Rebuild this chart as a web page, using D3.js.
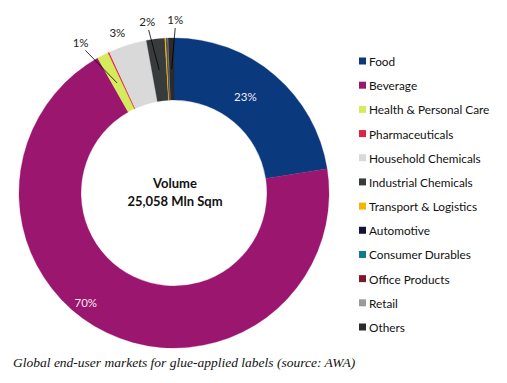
<!DOCTYPE html>
<html>
<head>
<meta charset="utf-8">
<script src="https://cdn.jsdelivr.net/npm/d3@7/dist/d3.min.js"></script>
<style>
  html, body { margin: 0; padding: 0; background: #fff; }
  svg { display: block; }
</style>
</head>
<body>
<svg id="chart" width="507" height="383"></svg>
<script>
// ---- data ----
const categories = ["Food", "Beverage", "Health & Personal Care", "Pharmaceuticals",
  "Household Chemicals", "Industrial Chemicals", "Transport & Logistics", "Automotive",
  "Consumer Durables", "Office Products", "Retail", "Others"];
const shares = [22.5, 69.3, 1.2, 0.15, 4.0, 1.9, 0.15, 0.05, 0.05, 0.05, 0.05, 0.6];
const labels = ["23%", "70%", "1%", "", "3%", "2%", "", "", "", "", "", "1%"];
const colors = ["#0a3a7d", "#9b166f", "#d6eb5c", "#e0243f", "#d9d9d9", "#383b3b",
  "#f2b705", "#14123c", "#0f7a8a", "#7c1a2b", "#9a9a9a", "#2b2b2b"];
const centerLines = ["Volume", "25,058 Mln Sqm"];
const caption = "Global end-user markets for glue-applied labels (source: AWA)";

// ---- layout ----
const svg = d3.select("#chart");
const cx = 174, cy = 193, rOuter = 155, rInner = 93;
const data = categories.map((c, i) => ({ name: c, value: shares[i], color: colors[i], label: labels[i] }));

const pie = d3.pie().value(d => d.value).sort(null);
const arcs = pie(data);
const arc = d3.arc().innerRadius(rInner).outerRadius(rOuter);

const g = svg.append("g").attr("transform", `translate(${cx},${cy})`);
g.selectAll("path.slice").data(arcs).enter().append("path")
  .attr("class", "slice")
  .attr("d", arc)
  .attr("fill", d => d.data.color)
  .attr("stroke", d => d.data.color)
  .attr("stroke-width", 0.3);

// label placement rules (layout, per index)
const labelLayout = {
  0: { inside: true, dAng: -4, r: 120 },
  1: { inside: true, dAng: 13, r: 141 },
  2: { inside: false, dAng: -4.5, r: 177, leader: true },
  4: { inside: false, dAng: -2, r: 170, leader: false },
  5: { inside: false, dAng: -2, r: 174, leader: true },
  11: { inside: false, dAng: 1.5, r: 174, leader: true }
};
const rad = Math.PI / 180;
const pt = (a, r) => [r * Math.sin(a), -r * Math.cos(a)];

arcs.forEach((d, i) => {
  const L = labelLayout[i];
  if (!L || !d.data.label) return;
  const mid = (d.startAngle + d.endAngle) / 2;
  const la = mid + L.dAng * rad;
  const [lx, ly] = pt(la, L.r);
  if (L.leader) {
    const [mx, my] = pt(mid, (rInner + rOuter) / 2);
    const [sx, sy] = pt(la, L.r - 9);
    g.append("line")
      .attr("x1", sx).attr("y1", sy).attr("x2", mx).attr("y2", my)
      .attr("stroke", "#000").attr("stroke-width", 0.8);
  }
  g.append("text")
    .attr("x", lx).attr("y", ly)
    .attr("text-anchor", "middle").attr("dominant-baseline", "central")
    .attr("font-family", "Lato, 'Open Sans', sans-serif")
    .attr("font-size", 11.5)
    .attr("fill", L.inside ? "#f4eaf2" : "#222")
    .text(d.data.label);
});

// center text
g.selectAll("text.center").data(centerLines).enter().append("text")
  .attr("class", "center")
  .attr("x", 1)
  .attr("y", (d, i) => -5 + i * 17.5)
  .attr("text-anchor", "middle")
  .attr("font-family", "Lato, 'Open Sans', sans-serif")
  .attr("font-weight", "bold")
  .attr("font-size", 13)
  .attr("fill", "#111")
  .text(d => d);

// legend
const legY = d3.scalePoint().domain(categories).range([61, 327]);
const leg = svg.append("g");
const items = leg.selectAll("g").data(data).enter().append("g")
  .attr("transform", d => `translate(359,${legY(d.name)})`);
items.append("rect").attr("x", 0).attr("y", -3.5).attr("width", 7).attr("height", 7)
  .attr("fill", d => d.color);
items.append("text").attr("x", 10).attr("y", 0.5)
  .attr("dominant-baseline", "central")
  .attr("font-family", "Lato, 'Open Sans', sans-serif")
  .attr("font-size", 11.8)
  .attr("fill", "#111")
  .text(d => d.name);

// caption
svg.append("text")
  .attr("x", 13).attr("y", 367)
  .attr("font-family", "'Liberation Serif', 'DejaVu Serif', serif")
  .attr("font-style", "italic")
  .attr("font-size", 13.5)
  .attr("fill", "#111")
  .text(caption);
</script>
</body>
</html>
